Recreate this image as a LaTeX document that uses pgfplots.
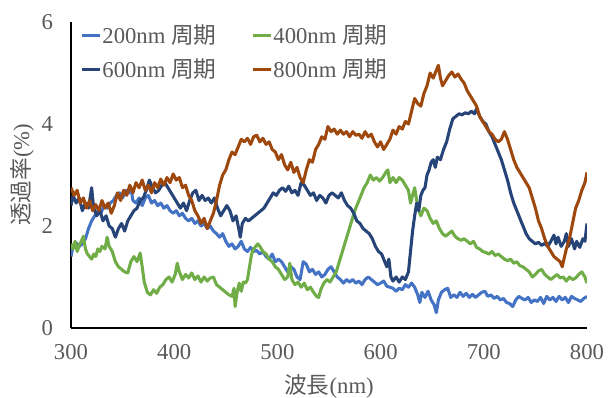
\documentclass[border=0pt]{standalone}
\usepackage{fontspec}
\setmainfont{Liberation Serif}
\newfontfamily\cjk{Noto Sans CJK JP}
\usepackage{pgfplots}
\pgfplotsset{compat=1.18}
\definecolor{c200}{HTML}{4472C4}
\definecolor{c400}{HTML}{70AD47}
\definecolor{c600}{HTML}{264478}
\definecolor{c800}{HTML}{9E480E}
\definecolor{tickgray}{HTML}{595959}
\begin{document}
\begin{tikzpicture}
\useasboundingbox (-53.25pt,-52.5pt) rectangle (402.75pt,246pt);
\begin{axis}[
  at={(0,0)}, anchor=south west,
  scale only axis, width=387pt, height=229.5pt,
  xmin=300, xmax=800, ymin=0, ymax=6,
  xtick={300,400,500,600,700,800},
  ytick={0,2,4,6},
  axis x line*=bottom, axis y line*=left,
  axis line style={black, line width=1.1pt, -},
  major tick length=0pt,
  tick style={draw=none},
  /pgf/number format/assume math mode=true,
  ticklabel style={font=\fontsize{17}{19}\selectfont, text=tickgray},
  yticklabel style={xshift=-10pt},
  xticklabel style={yshift=-9pt},
  xlabel={{\cjk 波長}(nm)},
  ylabel={{\cjk 透過率}(\%)},
  label style={font=\fontsize{17}{19}\selectfont, text=tickgray},
  xlabel style={at={(axis description cs:0.5,-0.19)}, anchor=center},
  ylabel style={at={(axis description cs:-0.095,0.5)}, anchor=center, rotate=0},
  legend columns=2,
  legend cell align=left,
  legend image code/.code={\draw[#1] (0pt,0pt) -- (13.5pt,0pt);},
  legend style={draw=none, fill=none, at={(rel axis cs:0.017,0.995)}, anchor=north west,
    font=\fontsize{17}{19}\selectfont, text=tickgray, inner sep=0pt,
    nodes={inner sep=1pt}, row sep=8pt,
    /tikz/every even column/.append style={column sep=25pt}},
  every axis plot/.append style={line width=2.3pt, line join=round, mark=none},
]
\addplot[c200] coordinates {
(300,1.4)(302,1.6)(305,1.67)(308,1.6)(311,1.65)(314,1.75)(317,1.95)(320,2.1)(323,2.2)(326,2.3)(329,2.25)(332,2.4)(335,2.35)(338,2.45)(341,2.5)(344,2.6)(347,2.65)(350,2.55)(353,2.7)(356,2.65)(358,2.75)(360,2.5)(363,2.45)(366,2.55)(369,2.4)(372,2.55)(375,2.6)(378,2.45)(381,2.5)(384,2.4)(387,2.45)(390,2.35)(393,2.4)(396,2.3)(399,2.25)(402,2.3)(405,2.2)(408,2.25)(411,2.15)(414,2.1)(417,2.15)(420,2.05)(423,2.1)(426,2.0)(429,2.05)(432,1.95)(435,2.0)(438,1.9)(441,1.85)(444,1.78)(447,1.85)(450,1.7)(453,1.6)(456,1.65)(459,1.55)(462,1.6)(465,1.7)(468,1.55)(471,1.5)(474,1.58)(477,1.5)(480,1.52)(483,1.45)(486,1.5)(489,1.4)(492,1.35)(495,1.45)(498,1.3)(501,1.35)(504,1.3)(507,1.2)(510,1.1)(513,1.2)(516,1.15)(519,1.0)(522,0.95)(525,1.3)(528,1.25)(531,1.1)(534,1.15)(537,1.05)(540,1.1)(543,1.0)(546,1.05)(549,1.15)(552,1.2)(555,1.1)(558,1.0)(561,0.95)(564,0.88)(567,0.95)(570,0.9)(573,0.95)(576,0.88)(579,0.92)(582,0.85)(585,0.95)(588,1.0)(591,0.95)(594,0.9)(597,0.85)(600,0.88)(603,0.92)(606,0.82)(609,0.8)(612,0.78)(615,0.72)(618,0.78)(621,0.75)(624,0.85)(627,0.8)(630,0.88)(633,0.8)(636,0.65)(638,0.5)(640,0.7)(643,0.6)(646,0.72)(649,0.55)(652,0.45)(654,0.3)(656,0.55)(659,0.7)(662,0.75)(665,0.78)(668,0.6)(671,0.65)(674,0.6)(677,0.7)(680,0.62)(683,0.68)(686,0.6)(689,0.66)(692,0.6)(695,0.65)(698,0.7)(701,0.72)(704,0.62)(707,0.65)(710,0.58)(713,0.62)(716,0.55)(719,0.58)(722,0.5)(725,0.48)(728,0.42)(731,0.55)(734,0.62)(737,0.58)(740,0.55)(743,0.6)(746,0.5)(749,0.55)(752,0.52)(755,0.6)(758,0.48)(761,0.62)(764,0.55)(767,0.6)(770,0.52)(773,0.62)(776,0.55)(779,0.6)(782,0.5)(785,0.62)(788,0.58)(791,0.55)(794,0.52)(797,0.58)(800,0.62)
};
\addlegendentry{200nm {\cjk 周期}}
\addplot[c400] coordinates {
(300,1.65)(302,1.55)(304,1.7)(306,1.5)(308,1.62)(310,1.7)(312,1.8)(314,1.55)(316,1.45)(318,1.4)(320,1.35)(322,1.45)(324,1.4)(326,1.55)(328,1.5)(330,1.6)(333,1.55)(335,1.78)(337,1.6)(340,1.5)(343,1.3)(346,1.2)(349,1.15)(352,1.1)(355,1.08)(358,1.3)(361,1.4)(364,1.3)(367,1.47)(369,1.2)(371,0.9)(374,0.7)(377,0.65)(380,0.75)(383,0.68)(386,0.8)(389,0.85)(392,0.95)(395,1.0)(398,0.9)(401,1.05)(403,1.27)(405,1.1)(408,0.95)(411,1.05)(414,0.98)(417,1.08)(420,0.95)(423,1.02)(426,0.9)(429,1.0)(432,0.92)(435,0.98)(438,1.0)(441,0.85)(444,0.8)(447,0.75)(450,0.7)(453,0.65)(456,0.62)(458,0.78)(459,0.42)(461,0.7)(463,0.88)(465,0.72)(467,0.9)(469,0.88)(471,0.95)(473,1.2)(475,1.45)(477,1.55)(479,1.6)(481,1.65)(483,1.6)(486,1.5)(489,1.45)(492,1.35)(495,1.3)(498,1.2)(501,1.15)(504,1.05)(507,0.95)(510,1.0)(512,1.27)(514,0.95)(517,0.85)(520,0.9)(523,0.8)(526,0.88)(529,0.75)(532,0.8)(535,0.7)(538,0.62)(540,0.6)(542,0.75)(545,0.88)(548,0.95)(551,0.9)(554,1.0)(557,1.1)(560,1.3)(563,1.5)(566,1.7)(569,1.9)(572,2.1)(575,2.3)(578,2.45)(581,2.6)(584,2.75)(587,2.85)(590,3.0)(593,2.9)(596,2.95)(599,2.88)(602,2.95)(605,3.05)(607,3.1)(609,2.85)(612,2.95)(615,2.85)(618,2.95)(621,2.9)(624,2.8)(627,2.7)(629,2.45)(631,2.6)(633,2.75)(635,2.5)(637,2.3)(639,2.2)(642,2.35)(645,2.3)(648,2.15)(651,2.05)(654,2.1)(657,1.95)(660,1.85)(663,1.8)(666,1.85)(669,1.9)(672,1.8)(675,1.75)(678,1.72)(681,1.75)(684,1.7)(687,1.65)(690,1.7)(693,1.58)(696,1.55)(699,1.5)(702,1.48)(705,1.45)(708,1.5)(711,1.42)(714,1.45)(717,1.4)(720,1.35)(723,1.32)(726,1.35)(729,1.27)(732,1.3)(735,1.22)(738,1.2)(741,1.15)(744,1.1)(747,1.0)(750,1.05)(753,1.12)(756,1.15)(759,1.05)(762,1.0)(765,0.95)(768,1.0)(771,1.05)(774,0.98)(777,1.0)(780,0.92)(783,1.0)(786,0.95)(789,0.98)(792,1.05)(795,1.1)(798,1.0)(800,0.88)
};
\addlegendentry{400nm {\cjk 周期}}
\addplot[c600] coordinates {
(300,2.4)(302,2.6)(305,2.45)(308,2.55)(311,2.3)(314,2.45)(317,2.35)(320,2.75)(322,2.35)(325,2.2)(328,2.3)(331,2.1)(334,2.2)(337,2.0)(340,1.95)(343,1.78)(346,1.95)(349,2.05)(352,1.9)(355,2.1)(358,2.2)(361,2.3)(364,2.35)(367,2.5)(370,2.55)(373,2.7)(376,2.9)(379,2.75)(382,2.65)(385,2.7)(388,2.8)(391,2.85)(394,2.75)(397,2.65)(400,2.55)(403,2.45)(406,2.35)(409,2.45)(412,2.3)(415,2.5)(418,2.65)(421,2.7)(424,2.5)(427,2.6)(430,2.5)(433,2.55)(436,2.45)(439,2.55)(442,2.35)(445,2.2)(448,2.3)(451,2.4)(454,2.3)(457,2.1)(460,2.2)(463,1.9)(464,1.78)(466,2.05)(469,2.15)(472,2.1)(475,2.15)(478,2.2)(481,2.25)(484,2.3)(487,2.35)(490,2.45)(493,2.55)(496,2.65)(499,2.6)(502,2.7)(505,2.75)(508,2.68)(511,2.78)(514,2.65)(517,2.7)(520,2.6)(523,2.85)(526,2.8)(529,2.7)(532,2.6)(535,2.65)(538,2.5)(541,2.6)(544,2.55)(547,2.45)(550,2.6)(553,2.65)(556,2.6)(559,2.55)(562,2.65)(565,2.5)(568,2.4)(571,2.35)(574,2.25)(577,2.1)(580,2.05)(583,1.95)(586,1.9)(589,1.85)(592,1.75)(595,1.6)(598,1.5)(601,1.45)(604,1.3)(606,1.2)(608,1.35)(610,1.0)(612,0.92)(615,1.0)(618,0.9)(621,1.0)(624,0.95)(627,1.1)(629,1.5)(631,1.9)(633,2.2)(635,2.45)(637,2.3)(639,2.6)(641,2.7)(643,2.75)(645,3.0)(647,3.1)(649,3.25)(651,3.3)(653,3.15)(655,3.35)(658,3.3)(661,3.5)(664,3.65)(667,3.9)(670,4.1)(673,4.15)(676,4.2)(679,4.18)(682,4.22)(685,4.2)(688,4.25)(691,4.2)(693,4.3)(696,4.15)(699,4.05)(702,4.0)(705,3.85)(708,3.75)(711,3.6)(714,3.45)(717,3.3)(720,3.1)(723,2.9)(726,2.65)(729,2.45)(732,2.3)(735,2.15)(738,2.0)(741,1.85)(744,1.75)(747,1.7)(750,1.65)(753,1.68)(756,1.62)(759,1.66)(762,1.6)(765,1.7)(768,1.82)(770,1.65)(772,1.78)(775,1.6)(778,1.7)(780,1.85)(782,1.6)(785,1.75)(788,1.55)(790,1.7)(793,1.58)(796,1.75)(798,1.7)(800,2.05)
};
\addlegendentry{600nm {\cjk 周期}}
\addplot[c800] coordinates {
(300,2.75)(303,2.6)(306,2.7)(309,2.45)(312,2.55)(315,2.35)(318,2.5)(321,2.3)(324,2.42)(327,2.3)(330,2.5)(333,2.35)(336,2.45)(339,2.25)(342,2.4)(345,2.65)(348,2.5)(351,2.7)(354,2.6)(357,2.8)(360,2.65)(363,2.85)(366,2.75)(369,2.9)(372,2.7)(375,2.8)(378,2.65)(381,2.85)(384,2.75)(387,2.92)(390,2.8)(393,2.95)(396,2.85)(399,3.02)(402,2.9)(405,2.95)(408,2.75)(411,2.8)(414,2.6)(417,2.5)(420,2.3)(423,2.2)(426,2.05)(429,2.15)(432,1.95)(435,2.1)(438,2.25)(441,2.5)(444,2.8)(447,3.0)(450,3.1)(453,3.3)(456,3.45)(459,3.4)(462,3.55)(465,3.7)(468,3.65)(471,3.72)(474,3.6)(477,3.75)(480,3.78)(483,3.65)(486,3.72)(489,3.6)(492,3.65)(495,3.5)(498,3.45)(501,3.3)(504,3.4)(507,3.2)(510,3.1)(513,3.25)(516,3.05)(519,3.15)(522,2.95)(525,2.85)(528,3.1)(531,3.3)(534,3.25)(537,3.5)(540,3.6)(543,3.75)(546,3.7)(549,3.95)(552,3.85)(555,3.9)(558,3.8)(561,3.88)(564,3.8)(567,3.85)(570,3.75)(573,3.85)(576,3.78)(579,3.8)(582,3.72)(585,3.85)(588,3.75)(591,3.8)(594,3.65)(597,3.55)(600,3.65)(603,3.5)(606,3.6)(609,3.7)(612,3.88)(615,3.8)(618,3.95)(621,3.9)(624,4.05)(627,4.0)(630,4.25)(633,4.5)(636,4.4)(639,4.35)(642,4.6)(645,4.75)(648,5.0)(651,4.9)(654,5.05)(656,5.15)(658,4.9)(660,4.75)(663,4.85)(666,4.95)(669,5.02)(672,4.92)(675,4.98)(678,4.88)(681,4.8)(684,4.65)(687,4.55)(690,4.45)(693,4.35)(696,4.15)(699,4.05)(702,3.95)(705,3.85)(708,3.8)(711,3.7)(714,3.65)(717,3.7)(720,3.85)(723,3.7)(726,3.5)(729,3.3)(732,3.15)(735,3.05)(738,2.95)(741,2.85)(744,2.75)(747,2.55)(750,2.35)(753,2.1)(756,1.95)(759,1.75)(762,1.6)(765,1.5)(768,1.4)(771,1.35)(774,1.3)(776,1.2)(778,1.38)(780,1.55)(783,1.75)(786,2.05)(789,2.35)(792,2.5)(795,2.7)(798,2.85)(800,3.05)
};
\addlegendentry{800nm {\cjk 周期}}
\end{axis}
\end{tikzpicture}
\end{document}
